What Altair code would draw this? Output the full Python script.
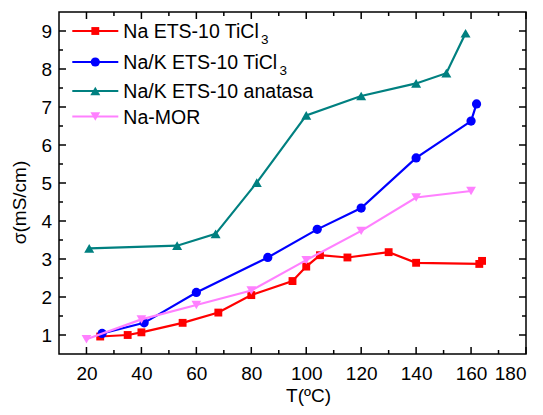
import altair as alt
import pandas as pd

# ---- data ----
names = ["Na ETS-10 TiCl3", "Na/K ETS-10 TiCl3", "Na/K ETS-10 anatasa", "Na-MOR"]
legend_main = ["Na ETS-10 TiCl", "Na/K ETS-10 TiCl", "Na/K ETS-10 anatasa", "Na-MOR"]
legend_sub = ["3", "3", "", ""]

na_T = [25, 35, 40, 55, 68, 80, 95, 100, 105, 115, 130, 140, 163, 164]
na_s = [0.96, 1.00, 1.07, 1.32, 1.59, 2.05, 2.42, 2.80, 3.10, 3.04, 3.18, 2.90, 2.87, 2.95]

nak_T = [25.7, 41, 60, 86, 104, 120, 140, 160, 162]
nak_s = [1.04, 1.32, 2.12, 3.04, 3.78, 4.34, 5.66, 6.63, 7.08]

ana_T = [21, 53, 67, 82, 100, 120, 140, 151, 158]
ana_s = [3.28, 3.35, 3.66, 5.01, 6.78, 7.29, 7.62, 7.89, 8.94]

mor_T = [20, 40, 60, 80, 100, 120, 140, 160]
mor_s = [0.89, 1.41, 1.79, 2.17, 2.97, 3.74, 4.62, 4.79]

x_major = [20, 40, 60, 80, 100, 120, 140, 160, 180]
x_minor = [30, 50, 70, 90, 110, 130, 150, 170]
y_major = [1, 2, 3, 4, 5, 6, 7, 8, 9]
y_minor = [1.5, 2.5, 3.5, 4.5, 5.5, 6.5, 7.5, 8.5]

colors = ["#FF0000", "#0000FF", "#008080", "#FF80FF"]
shapes = ["square", "circle", "triangle-up", "triangle-down"]
sizes = [62, 85, 100, 95]

series_T = [na_T, nak_T, ana_T, mor_T]
series_s = [na_s, nak_s, ana_s, mor_s]

FONT = "Liberation Sans"
W, H = 467, 342

xscale = alt.Scale(domain=[10, 180], nice=False, zero=False)
yscale = alt.Scale(domain=[0.5, 9.5], nice=False, zero=False)

x_axis = alt.Axis(values=x_major, ticks=False, domain=False, grid=False,
                  labelFont=FONT, labelFontSize=19, labelColor="black",
                  labelPadding=10,
                  title="T(ºC)", titleFont=FONT, titleFontSize=19,
                  titleFontWeight="normal", titleColor="black",
                  titleX=249, titleY=47, titleBaseline="alphabetic", titleAlign="center")
y_axis = alt.Axis(values=y_major, ticks=False, domain=False, grid=False,
                  labelFont=FONT, labelFontSize=19, labelColor="black",
                  labelPadding=7.5,
                  title="σ(mS/cm)", titleFont=FONT, titleFontSize=19,
                  titleFontWeight="normal", titleColor="black",
                  titleX=-34, titleY=190, titleAngle=270,
                  titleBaseline="alphabetic", titleAlign="center")

layers = []
for i, name in enumerate(names):
    d = pd.DataFrame({"T": series_T[i], "s": series_s[i], "i": range(len(series_T[i]))})
    base = alt.Chart(d)
    enc = dict(
        x=alt.X("T:Q", scale=xscale, axis=x_axis),
        y=alt.Y("s:Q", scale=yscale, axis=y_axis),
    )
    line = base.mark_line(color=colors[i], strokeWidth=2.2).encode(order="i:Q", **enc)
    pts = base.mark_point(shape=shapes[i], filled=True, opacity=1, color=colors[i],
                          size=sizes[i]).encode(**enc)
    layers += [line, pts]

# ---- inward ticks on all four sides ----
def xticks(vals, length):
    d = pd.DataFrame({"T": vals})
    b = alt.Chart(d).mark_rule(color="black", strokeWidth=1.5)
    xe = alt.X("T:Q", scale=xscale, axis=x_axis)
    return [b.encode(x=xe, y=alt.value(H), y2=alt.value(H - length)),
            b.encode(x=xe, y=alt.value(0), y2=alt.value(length))]

def yticks(vals, length):
    d = pd.DataFrame({"s": vals})
    b = alt.Chart(d).mark_rule(color="black", strokeWidth=1.5)
    ye = alt.Y("s:Q", scale=yscale, axis=y_axis)
    return [b.encode(y=ye, x=alt.value(0), x2=alt.value(length)),
            b.encode(y=ye, x=alt.value(W), x2=alt.value(W - length))]

layers += xticks(x_major, 7) + xticks(x_minor, 4) + yticks(y_major, 7) + yticks(y_minor, 4)

# ---- manual legend (line + marker + label with subscript) ----
row_y = [19, 50, 79, 104.5]
sub_x = [202, 220.5]
for i in range(4):
    ld = pd.DataFrame({"t": [legend_main[i]], "sub": [legend_sub[i]]})
    lb = alt.Chart(ld)
    layers.append(lb.mark_rule(color=colors[i], strokeWidth=2.2).encode(
        x=alt.value(13.3), x2=alt.value(59.3), y=alt.value(row_y[i])))
    layers.append(lb.mark_point(shape=shapes[i], filled=True, opacity=1, color=colors[i],
                                size=sizes[i]).encode(x=alt.value(36.3), y=alt.value(row_y[i])))
    layers.append(lb.mark_text(font=FONT, fontSize=19.5, color="black", align="left",
                               baseline="alphabetic").encode(
        text="t:N", x=alt.value(64.3), y=alt.value(row_y[i] + 7)))
    if legend_sub[i]:
        layers.append(lb.mark_text(font=FONT, fontSize=13.5, color="black", align="left",
                                   baseline="alphabetic").encode(
            text="sub:N", x=alt.value(sub_x[i]), y=alt.value(row_y[i] + 12.6)))

chart = alt.layer(*layers).properties(
    width=W, height=H,
    autosize=alt.AutoSizeParams(type="none"),
    padding={"left": 59, "top": 12, "right": 17, "bottom": 61},
    background="white",
).configure_view(stroke="black", strokeWidth=1.5)

chart.save("out.html", embed_options={"renderer": "svg", "actions": False})
